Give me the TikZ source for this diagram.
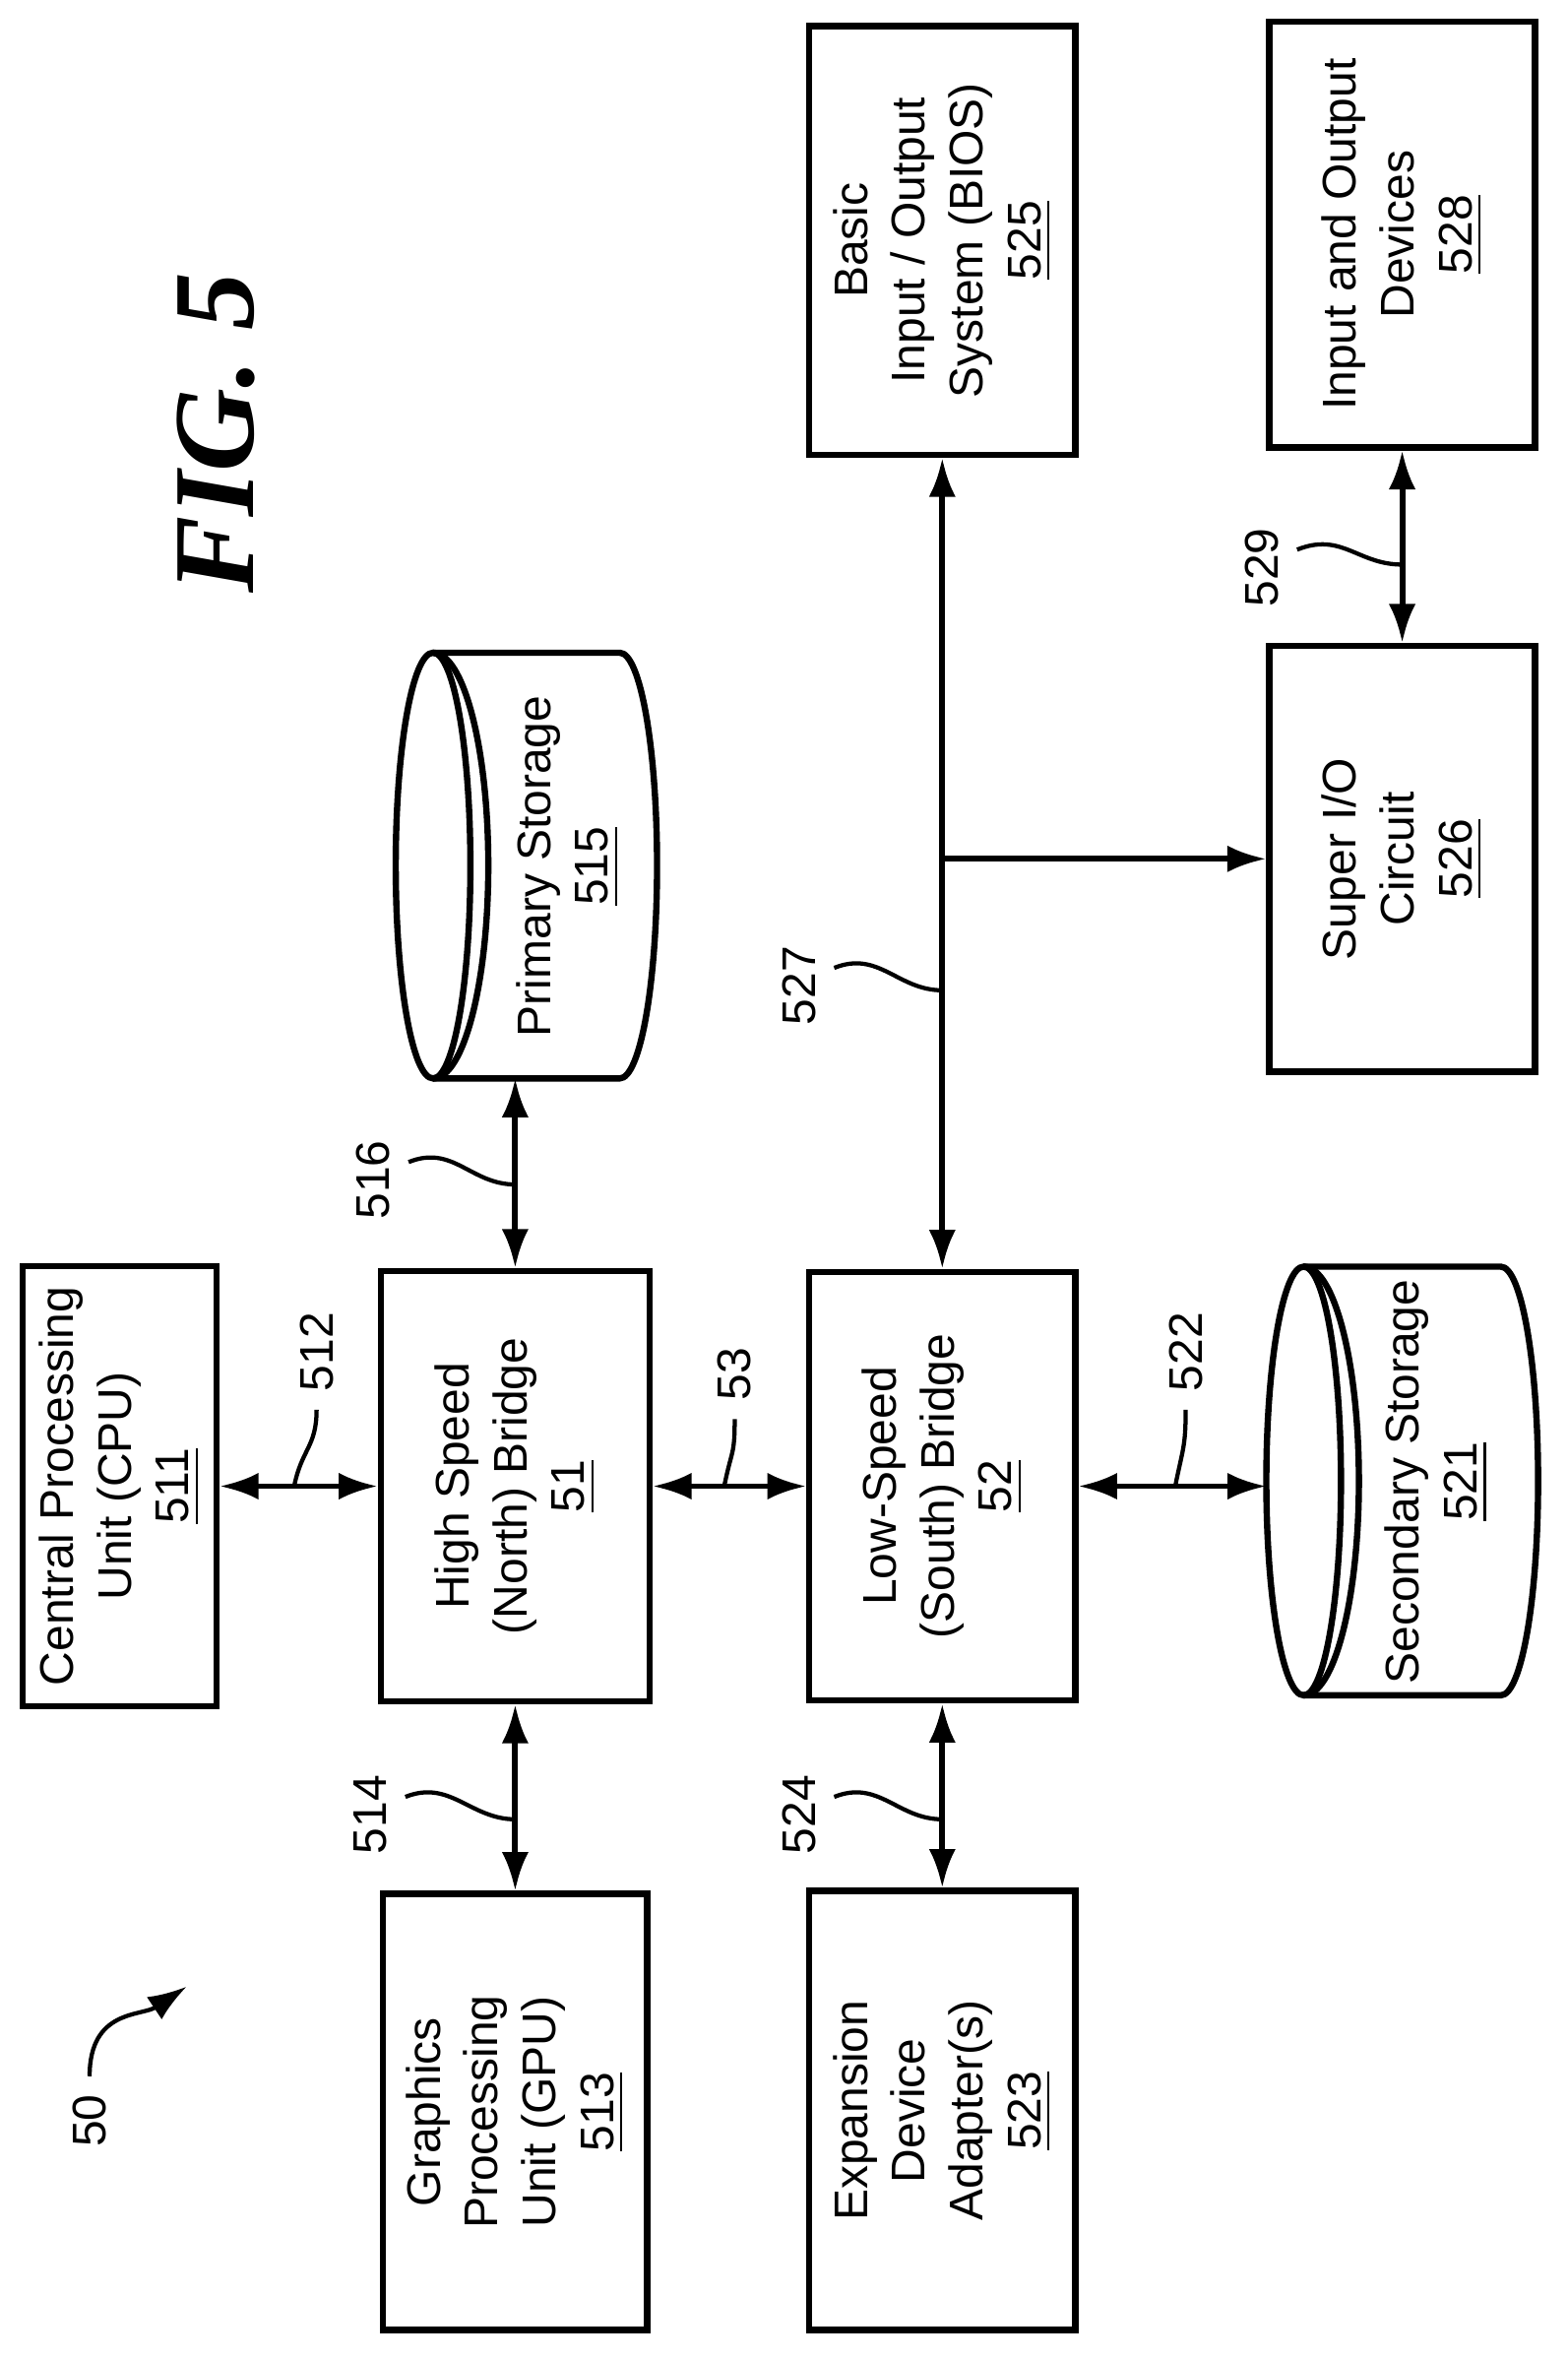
\documentclass[tikz,border=0pt]{standalone}
\usepackage{fontspec}
\setmainfont{Liberation Sans}
\usetikzlibrary{arrows.meta}
\newfontfamily\figfont{Liberation Serif}

\begin{document}
\begin{tikzpicture}[
    x=1cm, y=1cm,
    block/.style={draw, line width=1.2pt, rotate=90, align=center, font=\fontsize{9}{11}\selectfont, inner sep=2pt},
    disk/.style={rotate=90, align=center, font=\fontsize{9}{11}\selectfont},
    link/.style={{Latex[length=2.6mm,width=1.8mm]}-{Latex[length=2.6mm,width=1.8mm]}, line width=1.1pt},
    arrow/.style={-{Latex[length=2.6mm,width=1.8mm]}, line width=1.1pt},
    tag/.style={rotate=90, font=\fontsize{9}{11}\selectfont},
    lead/.style={line width=0.8pt}
]
    \useasboundingbox (0,0) rectangle (10.5,-15.8);

    % Blocks
    \node[block, minimum width=2.95cm, minimum height=1.30cm] (cpu) at (0.80,-9.95) {Central Processing\\Unit (CPU)\\\underline{511}};
    \node[block, minimum width=2.88cm, minimum height=1.80cm] (nb) at (3.45,-9.95) {High Speed\\(North) Bridge\\\underline{51}};
    \node[block, minimum width=2.92cm, minimum height=1.77cm] (gpu) at (3.45,-14.14) {Graphics\\Processing\\Unit (GPU)\\\underline{513}};
    \node[block, minimum width=2.87cm, minimum height=1.78cm] (sb) at (6.31,-9.95) {Low-Speed\\(South) Bridge\\\underline{52}};
    \node[block, minimum width=2.94cm, minimum height=1.78cm] (exp) at (6.31,-14.13) {Expansion\\Device\\Adapter(s)\\\underline{523}};
    \node[block, minimum width=2.87cm, minimum height=1.78cm] (bios) at (6.31,-1.61) {Basic\\Input / Output\\System (BIOS)\\\underline{525}};
    \node[block, minimum width=2.85cm, minimum height=1.78cm] (sio) at (9.39,-5.75) {Super I/O\\Circuit\\\underline{526}};
    \node[block, minimum width=2.85cm, minimum height=1.78cm] (iod) at (9.39,-1.57) {Input and Output\\Devices\\\underline{528}};

    % Storage
    \node[disk] (ps) at (3.80,-5.80) {Primary Storage\\\underline{515}};
    \node[disk] (ss) at (9.62,-9.92) {Secondary Storage\\\underline{521}};
    \coordinate (ps-in) at (3.45,-7.22);
    \coordinate (ss-in) at (8.48,-9.95);
    \foreach \l/\r/\t/\b in {2.65/4.40/-4.37/-7.22, 8.48/10.30/-8.48/-11.35} {
        \pgfmathsetmacro\ry{(\t-\b)/2}
        \pgfmathsetmacro\yc{(\t+\b)/2}
        \draw[line width=1.2pt] (\l+0.25,\yc) ellipse (0.25 and \ry);
        \draw[line width=1.2pt] (\l+0.25,\t) arc (90:-90:0.37 and \ry);
        \draw[line width=1.2pt] (\l+0.25,\t) -- (\r-0.25,\t) arc (90:-90:0.25 and \ry) -- (\l+0.25,\b);
    }

    % Connections
    \draw[link] (cpu) -- (nb);
    \draw[link] (nb) -- (gpu);
    \draw[link] (nb) -- (ps-in);
    \draw[link] (nb) -- (sb);
    \draw[link] (sb) -- (ss-in);
    \draw[link] (sb) -- (exp);
    \draw[link] (sb) -- (bios);
    \draw[arrow] (sb |- sio) -- (sio);
    \draw[link] (sio) -- (iod);

    % Reference labels
    \node[tag] (l512) at (2.12,-9.05) {512};
    \draw[lead] (l512.west) .. controls +(0,-0.25) and +(0.05,0.25) .. (1.97,-9.95);
    \node[tag] (l514) at (2.48,-12.15) {514};
    \draw[lead] (l514.south) ++(0,0.12) .. controls +(0.3,0.12) and +(-0.3,0) .. (3.45,-12.18);
    \node[tag] (l516) at (2.50,-7.90) {516};
    \draw[lead] (l516.south) ++(0,0.12) .. controls +(0.3,0.12) and +(-0.3,0) .. (3.45,-7.93);
    \node[tag] (l53) at (4.92,-9.20) {53};
    \draw[lead] (l53.west) .. controls +(0,-0.25) and +(0.05,0.25) .. (4.85,-9.95);
    \node[tag] (l522) at (7.94,-9.05) {522};
    \draw[lead] (l522.west) .. controls +(0,-0.25) and +(0.05,0.25) .. (7.87,-9.95);
    \node[tag] (l524) at (5.35,-12.15) {524};
    \draw[lead] (l524.south) ++(0,0.12) .. controls +(0.3,0.12) and +(-0.3,0) .. (6.31,-12.18);
    \node[tag] (l527) at (5.35,-6.60) {527};
    \draw[lead] (l527.south) ++(0,0.12) .. controls +(0.3,0.12) and +(-0.3,0) .. (6.31,-6.63);
    \node[tag] (l529) at (8.45,-3.80) {529};
    \draw[lead] (l529.south) ++(0,0.12) .. controls +(0.3,0.12) and +(-0.3,0) .. (9.39,-3.78);

    % Figure number
    \node[tag] (l50) at (0.60,-14.20) {50};
    \draw[arrow, line width=0.8pt] (l50.east) .. controls +(0,0.45) and +(-0.3,-0.2) .. (1.25,-13.30);
    \node[rotate=90, font=\figfont\bfseries\itshape\fontsize{22}{24}\selectfont] (fig) at (1.45,-2.90) {FIG. 5};
\end{tikzpicture}
\end{document}
